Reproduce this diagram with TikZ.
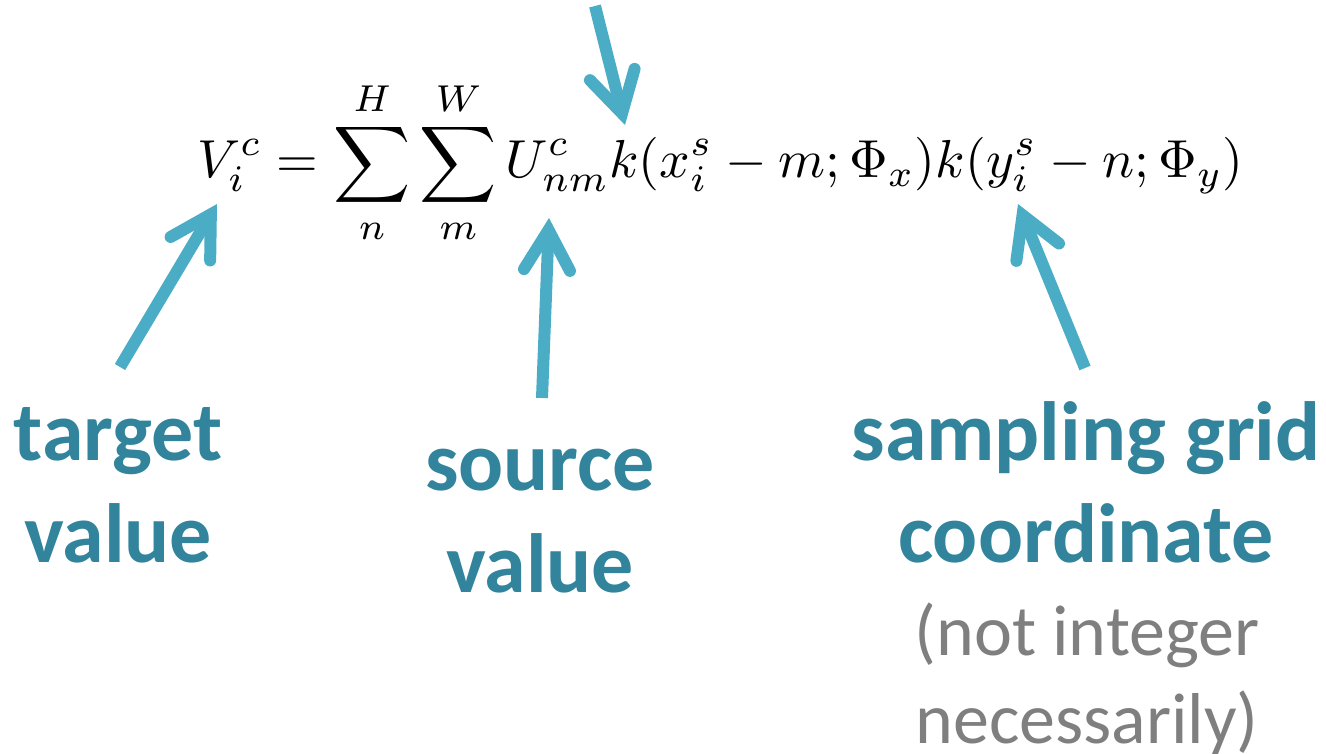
\documentclass[tikz,border=0pt]{standalone}
\usepackage[no-math]{fontspec}
\usepackage{graphicx}
\usetikzlibrary{arrows.meta}
\newfontfamily\calfont{Carlito}
\definecolor{arrowblue}{HTML}{4BACC6}
\definecolor{labelteal}{HTML}{31849B}
\definecolor{notegrey}{HTML}{7F7F7F}
\tikzset{
  pointer/.style={draw=arrowblue, line width=12pt, line cap=butt,
    -{Straight Barb[length=40pt,width=46pt,line cap=round,line join=miter]}},
  tealtext/.style={text=labelteal, align=center, inner sep=0pt, anchor=base,
    font=\calfont\bfseries\fontsize{84}{102}\selectfont},
  greytext/.style={text=notegrey, align=center, inner sep=0pt, anchor=base,
    font=\calfont\fontsize{72}{88}\selectfont},
}
\begin{document}
\begin{tikzpicture}[x=1pt,y=-1pt]
  \useasboundingbox (0,0) rectangle (1326,754);

  % heading line above, mostly outside the frame
  \begin{scope}
    \clip (0,0) rectangle (1326,754);
    \node[anchor=base west, inner sep=0pt, text=black,
      font=\calfont\fontsize{84}{102}\selectfont] (heading) at (-45,-16) {any sampling kernel};
  \end{scope}

  % the sampling equation
  \node[anchor=base west, inner sep=0pt] (eq) at (197,178)
    {\resizebox{1046pt}{!}{$\displaystyle V_i^c = \sum_n^H \sum_m^W U^c_{nm}k(x^s_i - m; \Phi_x)k(y^s_i - n; \Phi_y)$}};

  % labels (anchored at the baseline of their last line)
  \node[tealtext] (target) at (118,562) {target\\value};
  \node[tealtext] (source) at (540,592) {source\\value};
  \node[tealtext] (grid) at (1086,562) {sampling grid\\coordinate};
  \node[greytext] (gridnote) at (1087,743) {(not integer\\necessarily)};

  % arrow end points
  \coordinate (kTail) at (595,6);
  \coordinate (kTip) at (625,125);
  \coordinate (tgtTail) at (120,367);
  \coordinate (tgtTip) at (217,204);
  \coordinate (srcTail) at (542,398);
  \coordinate (srcTip) at (549,218);
  \coordinate (gridTail) at (1085,368);
  \coordinate (gridTip) at (1018,204);

  \draw[pointer] (kTail) -- (kTip);
  \draw[pointer] (tgtTail) -- (tgtTip);
  \draw[pointer] (srcTail) -- (srcTip);
  \draw[pointer] (gridTail) -- (gridTip);
\end{tikzpicture}
\end{document}
